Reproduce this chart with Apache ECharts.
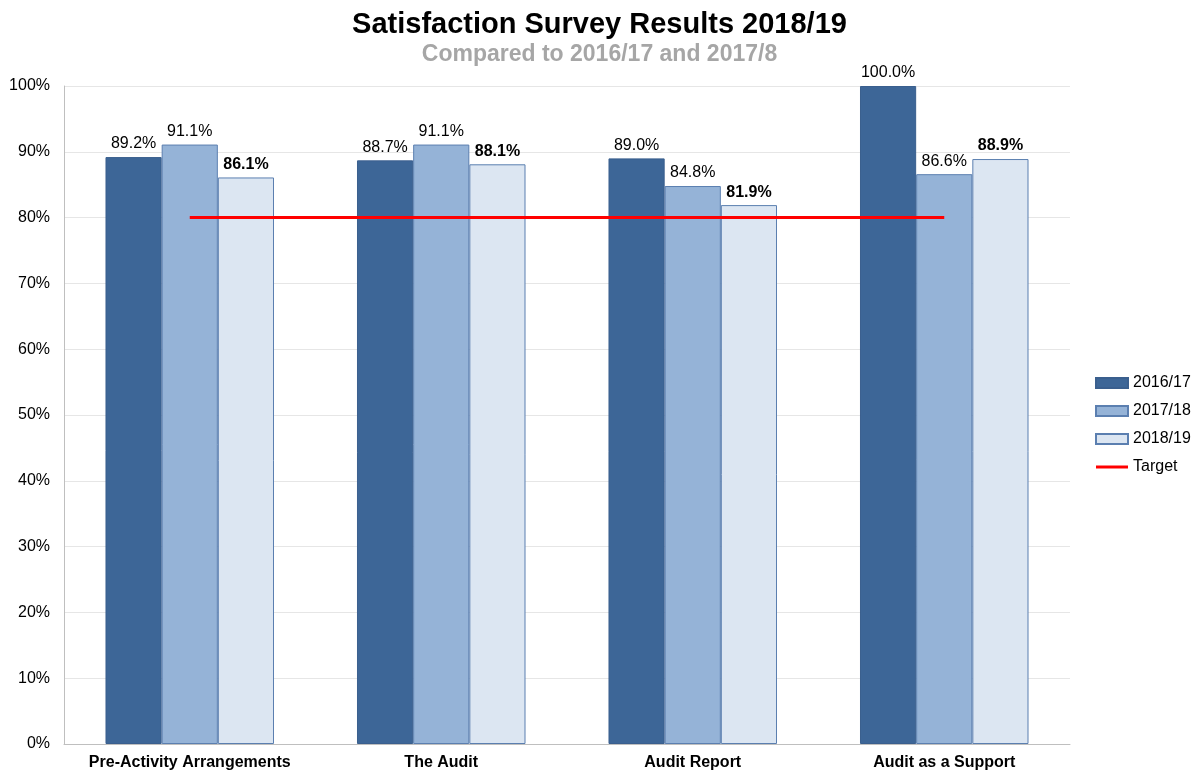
<!DOCTYPE html>
<html>
<head>
<meta charset="utf-8">
<script src="https://cdn.jsdelivr.net/npm/echarts@6/dist/echarts.min.js"></script>
<style>
  html, body { margin: 0; padding: 0; background: #fff; }
  #chart { width: 1199px; height: 772px; }
</style>
</head>
<body>
<div id="chart"></div>
<script>
const categories = ['Pre-Activity Arrangements', 'The Audit', 'Audit Report', 'Audit as a Support'];
const values1617 = [89.2, 88.7, 89.0, 100.0];
const values1718 = [91.1, 91.1, 84.8, 86.6];
const values1819 = [86.1, 88.1, 81.9, 88.9];
const targetValues = [80, 80, 80, 80];
const yTicks = [0, 10, 20, 30, 40, 50, 60, 70, 80, 90, 100];

const font = 'Liberation Sans, Arial, sans-serif';
const chart = echarts.init(document.getElementById('chart'));

function barSeries(name, data, color, border, bold) {
  return {
    name, type: 'bar', data,
    barGap: '0%', barCategoryGap: '33%',
    itemStyle: { color, borderColor: border, borderWidth: 1 },
    label: {
      show: true, position: 'top', distance: 5,
      formatter: p => p.value.toFixed(1) + '%',
      fontFamily: font, fontSize: 16, color: '#000',
      fontWeight: bold ? 'bold' : 'normal'
    }
  };
}

chart.setOption({
  animation: false,
  title: {
    text: 'Satisfaction Survey Results 2018/19',
    subtext: 'Compared to 2016/17 and 2017/8',
    left: 'center', top: 5, itemGap: 4,
    textStyle: { fontFamily: font, fontSize: 29, fontWeight: 'bold', color: '#000' },
    subtextStyle: { fontFamily: font, fontSize: 23, fontWeight: 'bold', color: '#a6a6a6' }
  },
  legend: {
    orient: 'vertical', left: 1090, top: 370, itemGap: 12,
    itemWidth: 32, itemHeight: 10,
    textStyle: { fontFamily: font, fontSize: 16, color: '#000' },
    data: [
      { name: '2016/17', icon: 'rect' },
      { name: '2017/18', icon: 'rect' },
      { name: '2018/19', icon: 'rect' },
      { name: 'Target', icon: 'path://M0,0 H32 V3 H0 Z' }
    ]
  },
  grid: { left: 64, right: 129, top: 86, bottom: 28, containLabel: false },
  xAxis: {
    type: 'category', data: categories,
    axisLine: { lineStyle: { color: '#bfbfbf' } },
    axisTick: { show: false },
    axisLabel: { interval: 0, fontFamily: font, fontSize: 16, fontWeight: 'bold', color: '#000', margin: 11 }
  },
  yAxis: {
    type: 'value', min: yTicks[0], max: yTicks[yTicks.length - 1], interval: 10,
    axisLine: { show: true, lineStyle: { color: '#bfbfbf' } },
    axisTick: { show: false },
    splitLine: { lineStyle: { color: '#e6e6e6' } },
    axisLabel: { fontFamily: font, fontSize: 16, color: '#000', margin: 14, formatter: v => v + '%' }
  },
  series: [
    barSeries('2016/17', values1617, '#3d6697', '#3a5f8e', false),
    barSeries('2017/18', values1718, '#95b3d7', '#5b7fb0', false),
    barSeries('2018/19', values1819, '#dce6f2', '#5b7fb0', true),
    {
      name: 'Target', type: 'line', data: targetValues, z: 5,
      symbol: 'none', lineStyle: { color: '#ff0000', width: 3 },
      itemStyle: { color: '#ff0000' }
    }
  ]
});
</script>
</body>
</html>
